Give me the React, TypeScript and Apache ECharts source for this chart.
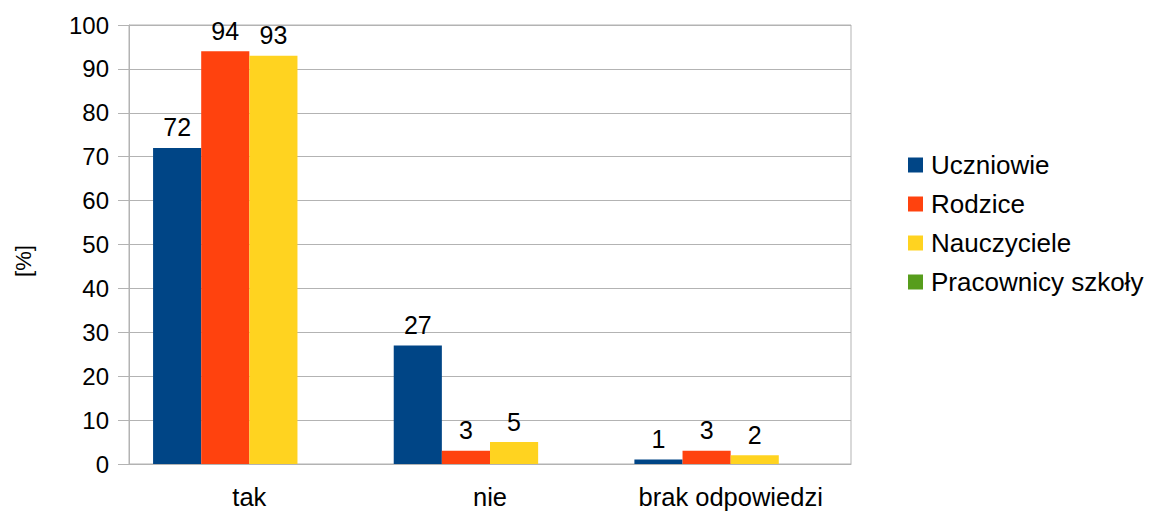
import React, { useEffect, useRef } from "react";
import * as echarts from "echarts";

const categories = ["tak", "nie", "brak odpowiedzi"];
const uczniowie = [72, 27, 1];
const rodzice = [94, 3, 3];
const nauczyciele = [93, 5, 2];
const pracownicy: (number | null)[] = [null, null, null];
const seriesNames = ["Uczniowie", "Rodzice", "Nauczyciele", "Pracownicy szkoły"];
const colors = ["#004586", "#ff420e", "#ffd320", "#579d1c"];

const FONT = "'Liberation Sans', Arial, sans-serif";

export default function App() {
  const ref = useRef<HTMLDivElement>(null);
  useEffect(() => {
    if (!ref.current) return;
    const chart = echarts.init(ref.current, null, { renderer: "svg" });
    const data = [uczniowie, rodzice, nauczyciele, pracownicy];
    chart.setOption({
      animation: false,
      textStyle: { fontFamily: FONT },
      grid: {
        left: 129,
        right: 303,
        top: 25,
        bottom: 50,
        show: true,
        borderColor: "#b3b3b3",
        borderWidth: 1,
      },
      legend: {
        orient: "vertical",
        left: 908,
        top: 152,
        padding: 0,
        itemWidth: 15,
        itemHeight: 15,
        itemGap: 13,
        icon: "rect",
        textStyle: { fontSize: 26, color: "#000", fontFamily: FONT, padding: [0, 0, 0, 3] },
        data: seriesNames,
      },
      xAxis: {
        type: "category",
        data: categories,
        axisLine: { lineStyle: { color: "#b3b3b3" } },
        axisTick: { length: 11, lineStyle: { color: "#b3b3b3" } },
        axisLabel: { fontSize: 25.5, color: "#000", margin: 20, fontFamily: FONT },
      },
      yAxis: {
        type: "value",
        min: 0,
        max: 100,
        interval: 10,
        axisLine: { show: true, lineStyle: { color: "#b3b3b3" } },
        axisTick: { show: true, length: 11, lineStyle: { color: "#b3b3b3" } },
        splitLine: { lineStyle: { color: "#b3b3b3" } },
        axisLabel: { fontSize: 24, color: "#000", margin: 20, fontFamily: FONT },
      },
      graphic: [
        {
          type: "text",
          x: 23,
          y: 261,
          rotation: Math.PI / 2,
          style: {
            text: "[%]",
            font: `22px ${FONT}`,
            fill: "#000",
            align: "center",
            verticalAlign: "middle",
          },
        },
      ],
      series: seriesNames.map((name, i) => ({
        name,
        type: "bar",
        data: data[i],
        barGap: "0%",
        barCategoryGap: "20%",
        itemStyle: { color: colors[i] },
        label: {
          show: true,
          position: "top",
          distance: 8,
          fontSize: 25,
          color: "#000",
          fontFamily: FONT,
        },
      })),
    });
    return () => chart.dispose();
  }, []);
  return <div ref={ref} style={{ width: 1154, height: 514, position: "absolute", left: 0, top: 0 }} />;
}
